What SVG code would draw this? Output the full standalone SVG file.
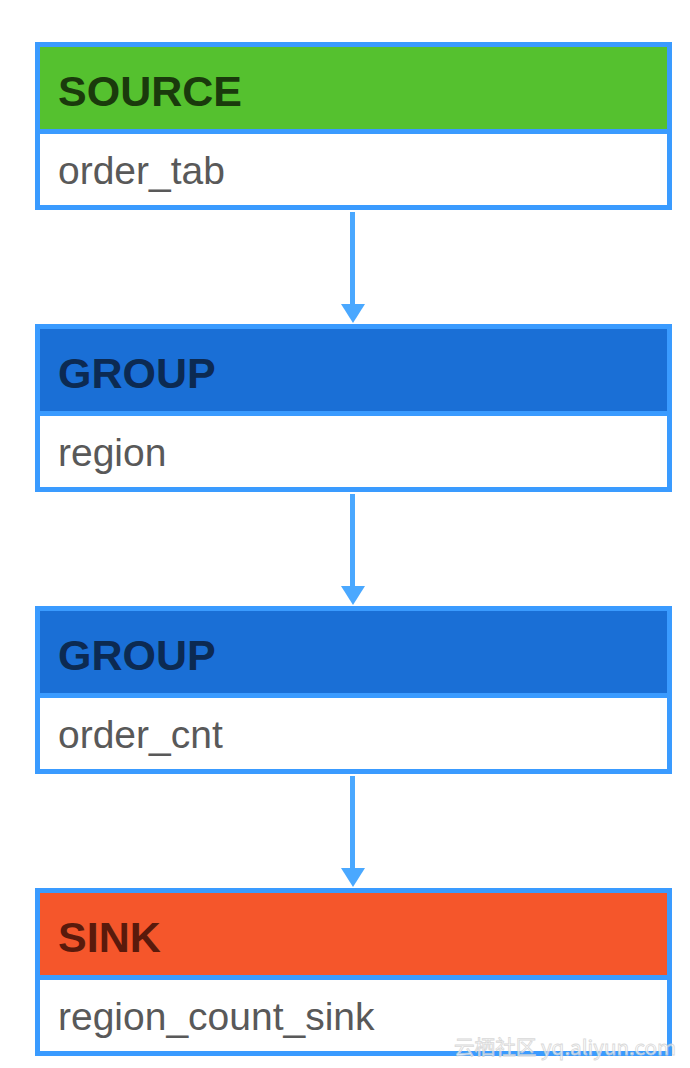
<svg xmlns="http://www.w3.org/2000/svg" width="690" height="1068" viewBox="0 0 690 1068">
<style>
.frame{fill:#ffffff;stroke:#3a9bff;stroke-width:5}
.div{stroke:#3a9bff;stroke-width:5}
.title{font-family:"Liberation Sans",Arial,sans-serif;font-weight:bold;font-size:43px}
.body{font-family:"Liberation Sans",Arial,sans-serif;font-size:39px;fill:#595959}
.conn{stroke:#4aa8ff;stroke-width:5;fill:none}
.wm{font-family:"Noto Sans CJK SC","Liberation Sans",sans-serif;font-size:20px;fill:#ffffff;stroke:#cfcfcf;stroke-width:0.8;opacity:0.8}
</style>
<rect width="690" height="1068" fill="#ffffff"/>
<g id="connectors">
<line class="conn" x1="352.5" y1="212" x2="352.5" y2="305"/>
<path d="M341,304 L365,304 L353,323 Z" fill="#4aa8ff"/>
<line class="conn" x1="352.5" y1="494" x2="352.5" y2="587"/>
<path d="M341,586 L365,586 L353,605 Z" fill="#4aa8ff"/>
<line class="conn" x1="352.5" y1="776" x2="352.5" y2="869"/>
<path d="M341,868 L365,868 L353,887 Z" fill="#4aa8ff"/>
</g>
<g id="source">
<rect class="frame" x="37.5" y="44.5" width="632" height="163"/>
<rect x="40" y="47" width="627" height="82" fill="#55c12f"/>
<line class="div" x1="37.5" y1="131.5" x2="669.5" y2="131.5"/>
<text class="title" x="58" y="106" fill="#1a3a0c">SOURCE</text>
<text class="body" x="58" y="184">order_tab</text>
</g>
<g id="group1">
<rect class="frame" x="37.5" y="326.5" width="632" height="163"/>
<rect x="40" y="329" width="627" height="82" fill="#1a6fd6"/>
<line class="div" x1="37.5" y1="413.5" x2="669.5" y2="413.5"/>
<text class="title" x="58" y="388" fill="#0c2a52">GROUP</text>
<text class="body" x="58" y="466">region</text>
</g>
<g id="group2">
<rect class="frame" x="37.5" y="608.5" width="632" height="163"/>
<rect x="40" y="611" width="627" height="82" fill="#1a6fd6"/>
<line class="div" x1="37.5" y1="695.5" x2="669.5" y2="695.5"/>
<text class="title" x="58" y="670" fill="#0c2a52">GROUP</text>
<text class="body" x="58" y="748">order_cnt</text>
</g>
<g id="sink">
<rect class="frame" x="37.5" y="890.5" width="632" height="163"/>
<rect x="40" y="893" width="627" height="82" fill="#f5562b"/>
<line class="div" x1="37.5" y1="977.5" x2="669.5" y2="977.5"/>
<text class="title" x="58" y="952" fill="#5a1a0c">SINK</text>
<text class="body" x="58" y="1030">region_count_sink</text>
</g>
<text class="wm" x="454" y="1055" textLength="222" lengthAdjust="spacingAndGlyphs">云栖社区 yq.aliyun.com</text>
</svg>
